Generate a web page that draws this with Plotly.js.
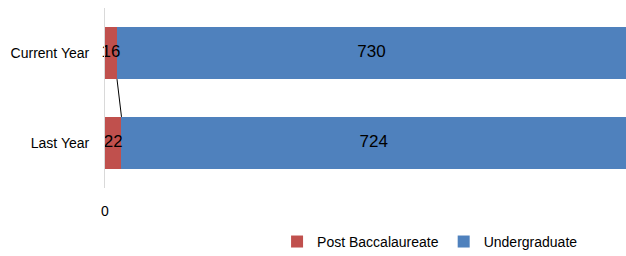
<!DOCTYPE html>
<html><head><meta charset="utf-8">
<script src="https://cdn.plot.ly/plotly-3.0.1.min.js"></script>
<style>html,body{margin:0;padding:0;background:#fff}#c{width:626px;height:256px}</style>
</head><body><div id="c"></div>
<script>
const categories = ["Last Year", "Current Year"];
const postBacc = [22, 16];
const undergrad = [724, 730];
const seriesNames = ["Post Baccalaureate", "Undergraduate"];
const xTicks = [0];

const xMax = 695;
const pos = categories.map((c, i) => i);
const barW = 0.58;
const font = "Liberation Sans, Arial, sans-serif";
const labelFont = {family: font, size: 17, color: "#000"};

const traces = [
  {type: "bar", orientation: "h", name: seriesNames[0], y: pos, x: postBacc,
   marker: {color: "#C0504D", line: {width: 0}}, width: barW,
   textposition: "none", hoverinfo: "x+name"},
  {type: "bar", orientation: "h", name: seriesNames[1], y: pos, x: undergrad,
   marker: {color: "#4F81BD", line: {width: 0}}, width: barW,
   textposition: "none", hoverinfo: "x+name"},
  {type: "scatter", mode: "text", showlegend: false, hoverinfo: "skip", cliponaxis: false,
   y: pos, x: postBacc.map((p) => p / 2),
   text: postBacc.map(String), textfont: labelFont},
  {type: "scatter", mode: "text", showlegend: false, hoverinfo: "skip",
   y: pos, x: postBacc.map((p) => (p + xMax) / 2),
   text: undergrad.map(String), textfont: labelFont},
  {type: "scatter", mode: "lines", showlegend: false, hoverinfo: "skip",
   y: [pos[1] - barW / 2, pos[0] + barW / 2], x: [postBacc[1], postBacc[0]],
   line: {color: "#000", width: 1}}
];

const layout = {
  width: 626, height: 256,
  margin: {l: 105, r: 0, t: 8, b: 68},
  barmode: "stack",
  paper_bgcolor: "#fff", plot_bgcolor: "#fff",
  font: {family: font, size: 14, color: "#000"},
  xaxis: {range: [0, xMax], tickvals: xTicks, ticktext: xTicks.map(String),
          showgrid: false, zeroline: false, showline: false, ticks: "",
          ticklabelstandoff: 13, tickfont: {family: font, size: 14, color: "#000"}},
  yaxis: {range: [-0.5, 1.5], tickvals: pos, ticktext: categories,
          showgrid: false, zeroline: false, showline: true, linecolor: "#d9d9d9", linewidth: 1,
          ticks: "", ticklabelstandoff: 12, tickfont: {family: font, size: 14, color: "#000"}},
  legend: {orientation: "h", xref: "container", yref: "container", x: 0.687, y: 0.055,
           xanchor: "center", yanchor: "middle", font: {family: font, size: 14, color: "#000"},
           traceorder: "normal", itemwidth: 30},
  showlegend: true
};

Plotly.newPlot("c", traces, layout, {displayModeBar: false, staticPlot: true});
</script></body></html>
